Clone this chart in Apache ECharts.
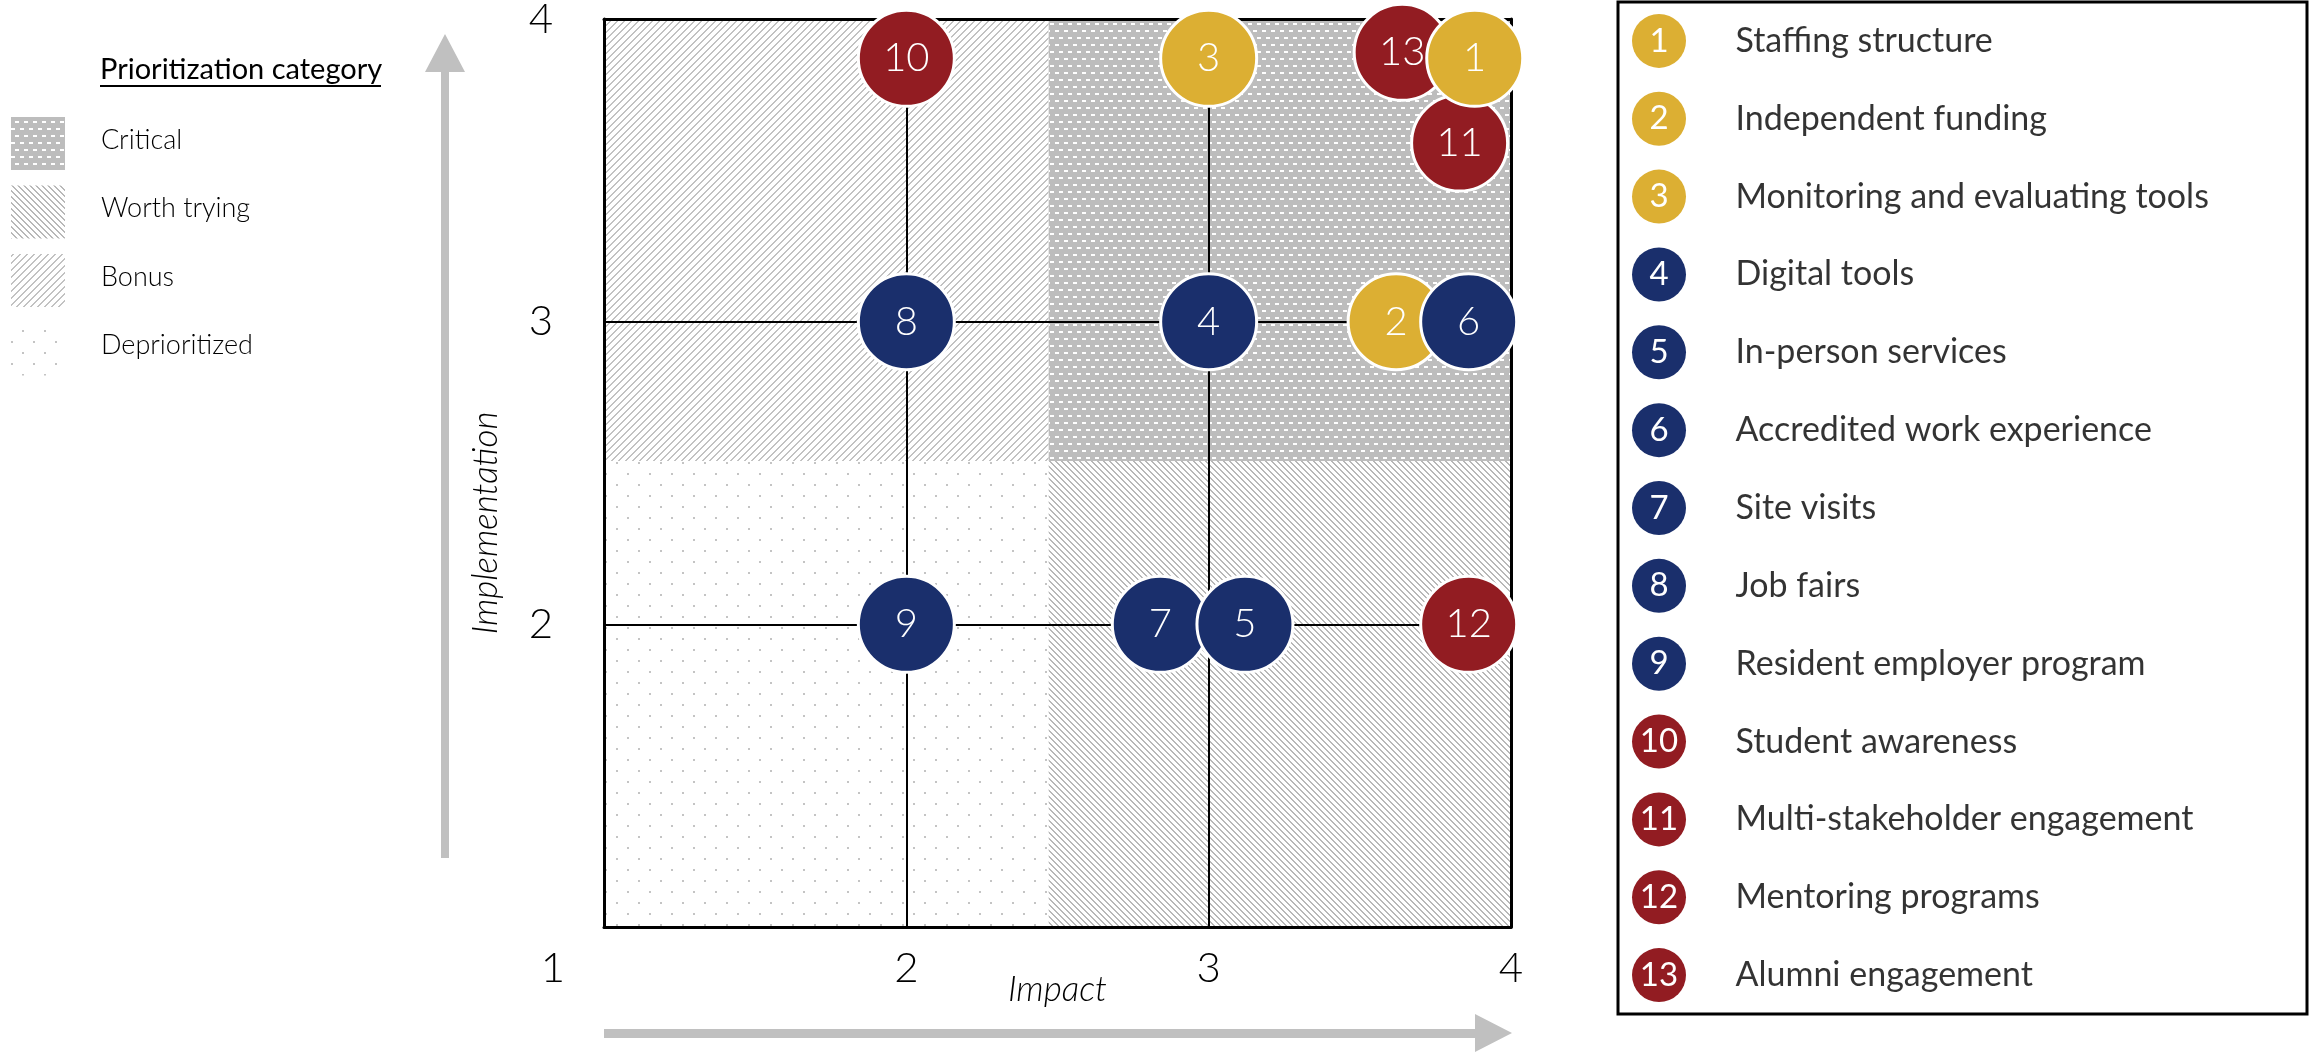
<!DOCTYPE html>
<html>
<head>
<meta charset="utf-8">
<script src="https://cdn.jsdelivr.net/npm/echarts@6/dist/echarts.min.js"></script>
<style>
html, body { margin: 0; padding: 0; background: #fff; }
#main { width: 2311px; height: 1052px; }
</style>
</head>
<body>
<div id="main"></div>
<script>
// bubbles, in drawing order (later ones sit on top)
const pointIds = [10, 3, 13, 11, 1, 8, 4, 2, 6, 9, 7, 5, 12];
const impactValues = [2, 3, 3.64, 3.83, 3.88, 2, 3, 3.62, 3.86, 2, 2.84, 3.12, 3.86];
const implementationValues = [3.87, 3.87, 3.89, 3.59, 3.87, 3, 3, 3, 3, 2, 2, 2, 2];

// legend items, by id 1..13
const itemNames = [
	'Staffing structure', 'Independent funding', 'Monitoring and evaluating tools',
	'Digital tools', 'In-person services', 'Accredited work experience', 'Site visits',
	'Job fairs', 'Resident employer program', 'Student awareness',
	'Multi-stakeholder engagement', 'Mentoring programs', 'Alumni engagement'
];
const itemGroups = ['gold', 'gold', 'gold', 'navy', 'navy', 'navy', 'navy', 'navy', 'navy', 'red', 'red', 'red', 'red'];
const groupColors = { gold: '#DCAF33', navy: '#1A2F6C', red: '#921C22' };

// prioritization zones
const zoneNames = ['Critical', 'Worth trying', 'Bonus', 'Deprioritized'];
const impactSplit = 2.47;
const implementationSplit = 2.54;
const axisMin = 1, axisMax = 4;

const fontName = 'Lato, "Open Sans", sans-serif';

// small repeating tiles for the zone fills
makePattern = (kind) => {
	let c = document.createElement('canvas');
	let ctx;
	if (kind == 'Critical') {
		c.width = 9; c.height = 14;
		ctx = c.getContext('2d');
		ctx.fillStyle = '#bdbdbd';
		ctx.fillRect(0, 0, 9, 14);
		ctx.fillStyle = '#ffffff';
		ctx.fillRect(2, 2, 4, 2);
		ctx.fillRect(6, 9, 3, 2);
		ctx.fillRect(0, 9, 1, 2);
	} else if (kind == 'Bonus' || kind == 'Worth trying') {
		let n = kind == 'Bonus' ? 7 : 6;
		c.width = n; c.height = n;
		ctx = c.getContext('2d');
		ctx.fillStyle = '#ffffff';
		ctx.fillRect(0, 0, n, n);
		ctx.fillStyle = kind == 'Bonus' ? '#c2c2c2' : '#b8b8b8';
		for (let x = 0; x < n; x++) {
			for (let y = 0; y < n; y++) {
				let k = kind == 'Bonus' ? (x + y) % n : (x - y + n) % n;
				if (k < 2) ctx.fillRect(x, y, 1, 1);
			}
		}
	} else {
		c.width = 22; c.height = 22;
		ctx = c.getContext('2d');
		ctx.fillStyle = '#ffffff';
		ctx.fillRect(0, 0, 22, 22);
		ctx.fillStyle = '#c4c4c4';
		ctx.fillRect(0, 0, 2, 2);
		ctx.fillRect(11, 11, 2, 2);
	}
	return { image: c, repeat: 'repeat' };
}

const zoneBox = {
	'Critical': [impactSplit, implementationSplit, axisMax, axisMax],
	'Worth trying': [impactSplit, axisMin, axisMax, implementationSplit],
	'Bonus': [axisMin, implementationSplit, impactSplit, axisMax],
	'Deprioritized': [axisMin, axisMin, impactSplit, implementationSplit]
};

let chart = echarts.init(document.getElementById('main'));

let tickLabel = {
	fontSize: 42,
	fontWeight: 300,
	fontFamily: fontName,
	color: '#000'
};

let legendGraphics = [{
	type: 'text',
	left: 100,
	top: 55,
	style: { text: 'Prioritization category', fontSize: 29, fontFamily: fontName, fill: '#000' }
}, {
	type: 'line',
	shape: { x1: 100, y1: 86, x2: 381, y2: 86 },
	style: { stroke: '#000', lineWidth: 2 }
}];
zoneNames.forEach((z, i) => {
	let y = 117 + i * 68.5;
	legendGraphics.push({
		type: 'rect',
		shape: { x: 11, y: y, width: 54, height: 53 },
		style: { fill: makePattern(z) }
	});
	legendGraphics.push({
		type: 'text',
		x: 101,
		y: y + 23,
		style: { text: z, fontSize: 27, fontWeight: 300, fontFamily: fontName, fill: '#000', verticalAlign: 'middle' }
	});
});

// grey direction arrows
legendGraphics.push({
	type: 'polygon',
	shape: { points: [[441, 858], [449, 858], [449, 72], [465, 72], [445, 34], [425, 72], [441, 72]] },
	style: { fill: '#c0c0c0' }
});
legendGraphics.push({
	type: 'polygon',
	shape: { points: [[604, 1029], [1475, 1029], [1475, 1014], [1512, 1033], [1475, 1052], [1475, 1038], [604, 1038]] },
	style: { fill: '#c0c0c0' }
});

let axisNameStyle = { fontSize: 35, fontStyle: 'italic', fontWeight: 300, fontFamily: fontName, color: '#000' };

let option = {
	backgroundColor: '#fff',
	animation: false,
	grid: [{
		left: 604, top: 19, width: 907, height: 908,
		outerBoundsMode: 'none'
	}, {
		left: 1618, top: 2, width: 689, height: 1012,
		show: true, borderColor: '#000', borderWidth: 3,
		outerBoundsMode: 'none'
	}],
	xAxis: [{
		type: 'value',
		gridIndex: 0,
		min: axisMin, max: axisMax, interval: 1,
		position: 'bottom',
		z: 3,
		axisLine: { show: true, lineStyle: { color: '#000', width: 3 } },
		axisTick: { show: false },
		splitLine: { show: true, lineStyle: { color: '#000', width: 2 } },
		axisLabel: {
			margin: 20,
			...tickLabel,
			formatter: (v) => v == 1 ? '{one|1}' : String(v),
			rich: { one: { ...tickLabel, padding: [0, 102, 0, 0] } }
		},
		name: 'Impact',
		nameLocation: 'middle',
		nameGap: 45,
		nameMoveOverlap: false,
		nameTextStyle: axisNameStyle
	}, {
		type: 'value',
		gridIndex: 0,
		min: axisMin, max: axisMax, interval: 1,
		position: 'top',
		z: 3,
		axisLine: { show: true, lineStyle: { color: '#000', width: 3 } },
		axisTick: { show: false },
		axisLabel: { show: false },
		splitLine: { show: false }
	}, {
		type: 'value',
		gridIndex: 1,
		min: 0, max: 689,
		show: false
	}],
	yAxis: [{
		type: 'value',
		gridIndex: 0,
		min: axisMin, max: axisMax, interval: 1,
		position: 'left',
		z: 3,
		axisLine: { show: true, lineStyle: { color: '#000', width: 3 } },
		axisTick: { show: false },
		splitLine: { show: true, lineStyle: { color: '#000', width: 2 } },
		axisLabel: {
			margin: 51,
			...tickLabel,
			formatter: (v) => v == 1 ? '' : String(v)
		},
		name: 'Implementation',
		nameLocation: 'middle',
		nameGap: 101,
		nameTextStyle: { ...axisNameStyle, padding: [0, 100, 0, 0] }
	}, {
		type: 'value',
		gridIndex: 0,
		min: axisMin, max: axisMax, interval: 1,
		position: 'right',
		z: 3,
		axisLine: { show: true, lineStyle: { color: '#000', width: 3 } },
		axisTick: { show: false },
		axisLabel: { show: false },
		splitLine: { show: false }
	}, {
		type: 'category',
		gridIndex: 1,
		data: itemNames,
		inverse: true,
		show: false
	}],
	graphic: legendGraphics,
	series: [{
		name: 'zones',
		type: 'scatter',
		xAxisIndex: 0, yAxisIndex: 0,
		z: 1,
		data: [],
		silent: true,
		markArea: {
			silent: true,
			label: { show: false },
			data: zoneNames.map((z) => {
				let b = zoneBox[z];
				return [
					{ xAxis: b[0], yAxis: b[1], itemStyle: { color: makePattern(z), opacity: 1 } },
					{ xAxis: b[2], yAxis: b[3] }
				];
			})
		}
	}, {
		name: 'items',
		type: 'scatter',
		xAxisIndex: 0, yAxisIndex: 0,
		z: 5,
		symbolSize: 96,
		itemStyle: { borderColor: '#fff', borderWidth: 3, opacity: 1 },
		label: {
			show: true,
			position: 'inside',
			formatter: '{b}',
			color: '#fff',
			fontSize: 40,
			fontWeight: 300,
			fontFamily: fontName
		},
		emphasis: { disabled: true },
		data: pointIds.map((id, i) => ({
			name: String(id),
			value: [impactValues[i], implementationValues[i]],
			itemStyle: { color: groupColors[itemGroups[id - 1]] }
		}))
	}, {
		name: 'legendDots',
		type: 'scatter',
		xAxisIndex: 2, yAxisIndex: 2,
		symbolSize: 54,
		itemStyle: { opacity: 1 },
		label: {
			show: true,
			position: 'inside',
			formatter: '{b}',
			color: '#fff',
			fontSize: 33,
			fontFamily: fontName
		},
		emphasis: { disabled: true },
		data: itemNames.map((n, i) => ({
			name: String(i + 1),
			value: [41, n],
			itemStyle: { color: groupColors[itemGroups[i]] }
		}))
	}, {
		name: 'legendText',
		type: 'scatter',
		xAxisIndex: 2, yAxisIndex: 2,
		symbolSize: 1,
		itemStyle: { color: 'rgba(0,0,0,0)' },
		label: {
			show: true,
			position: 'right',
			distance: 0,
			formatter: (p) => p.value[1],
			color: '#000',
			fontSize: 34,
			fontFamily: fontName
		},
		emphasis: { disabled: true },
		data: itemNames.map((n) => [117, n])
	}]
};

chart.setOption(option);
</script>
</body>
</html>
